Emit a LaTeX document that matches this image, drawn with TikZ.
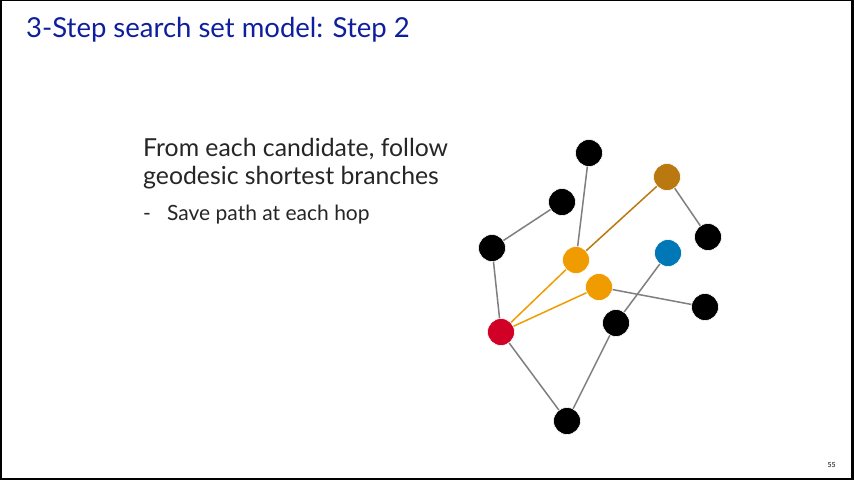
\documentclass[tikz,border=0pt]{standalone}
\usepackage{fontspec}
\setmainfont{Lato}
\definecolor{titleblue}{HTML}{0D1F9C}
\definecolor{textgray}{HTML}{262626}
\definecolor{edgegray}{HTML}{7F7F7F}
\definecolor{seedred}{HTML}{D00027}
\definecolor{hoporange}{HTML}{F09C00}
\definecolor{hopbrown}{HTML}{BA7910}
\definecolor{targetblue}{HTML}{0077B6}
\begin{document}
\begin{tikzpicture}[x=1pt,y=-1pt,
  vertex/.style={circle,inner sep=0pt,minimum size=27pt,draw=white,line width=0.6pt,fill=#1},
  vertex/.default=black,
  plain/.style={draw=edgegray,line width=1.5pt},
  hop/.style={draw=#1,line width=1.5pt},
  txt/.style={anchor=base west,inner sep=0pt,text=textgray}]
% slide frame
\fill[white] (0,0) rectangle (854,480);
\useasboundingbox (0,0) rectangle (854,480);
\draw[black,line width=1pt] (0.5,0.5) -- (852,0.5);
\draw[black,line width=1.5pt] (0.75,0) -- (0.75,479);
\draw[black,line width=3pt] (852,0) -- (852,480);
\draw[black,line width=2.5pt] (0,478.8) -- (854,478.8);
% text
\node[anchor=base west,inner sep=0pt,text=titleblue,font=\fontsize{27.5}{32}\selectfont] (title) at (26,37) {3-Step search set model: Step 2};
\node[txt,font=\fontsize{24.8}{30}\selectfont] (body1) at (143,156.7) {From each candidate, follow};
\node[txt,font=\fontsize{24.8}{30}\selectfont] (body2) at (143,184) {geodesic shortest branches};
\node[txt,font=\fontsize{21}{25}\selectfont] (dash) at (143,220) {-};
\node[txt,font=\fontsize{21}{25}\selectfont] (bullet) at (167,220) {Save path at each hop};
\node[anchor=base east,inner sep=0pt,font=\fontsize{7}{8}\selectfont] (page) at (836,467) {55};
% graph nodes
\coordinate (pT) at (589,153);
\coordinate (pB) at (667,177);
\coordinate (p2) at (562,202);
\coordinate (pL) at (492,248);
\coordinate (pO1) at (576,260);
\coordinate (pR) at (708,237);
\coordinate (pBl) at (668,253);
\coordinate (pO2) at (599,287);
\coordinate (pR2) at (705,307);
\coordinate (pM) at (616,323);
\coordinate (pS) at (501,332);
\coordinate (pD) at (567,421);
% edges
\draw[plain] (pT) -- (pO1);
\draw[plain] (p2) -- (pL);
\draw[plain] (pL) -- (pS);
\draw[plain] (pB) -- (pR);
\draw[plain] (pBl) -- (pM);
\draw[plain] (pO2) -- (pR2);
\draw[plain] (pS) -- (pD);
\draw[plain] (pD) -- (pM);
\draw[hop=hoporange] (pS) -- (pO1);
\draw[hop=hoporange] (pS) -- (pO2);
\draw[hop=hopbrown] (pO1) -- (pB);
% vertices
\node[vertex] (top) at (pT) {};
\node[vertex=hopbrown] (brown) at (pB) {};
\node[vertex] (upper) at (p2) {};
\node[vertex] (left) at (pL) {};
\node[vertex=hoporange] (orangeA) at (pO1) {};
\node[vertex] (right) at (pR) {};
\node[vertex=targetblue] (blue) at (pBl) {};
\node[vertex=hoporange] (orangeB) at (pO2) {};
\node[vertex] (right2) at (pR2) {};
\node[vertex] (mid) at (pM) {};
\node[vertex=seedred] (seed) at (pS) {};
\node[vertex] (bottom) at (pD) {};
\end{tikzpicture}
\end{document}
